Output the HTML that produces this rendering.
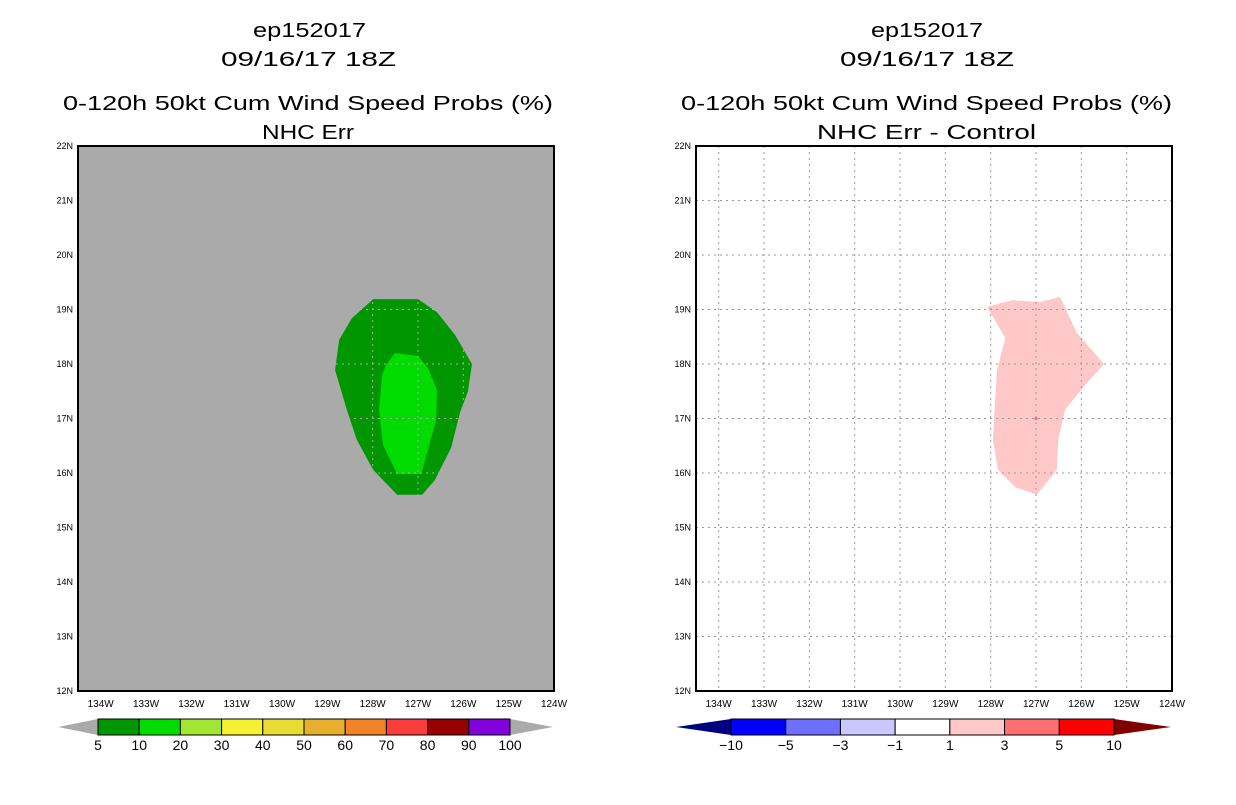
<!DOCTYPE html>
<html><head><meta charset="utf-8"><style>
body{margin:0;background:#fff;width:1236px;height:800px;overflow:hidden}
svg text{font-family:"Liberation Sans",sans-serif}
</style></head><body>
<svg id="s" width="1236" height="800" xmlns="http://www.w3.org/2000/svg">
<g font-size="20" fill="#000" lengthAdjust="spacingAndGlyphs">
<text x="253" y="37" textLength="113" lengthAdjust="spacingAndGlyphs">ep152017</text>
<text x="221" y="66" textLength="175" lengthAdjust="spacingAndGlyphs">09/16/17 18Z</text>
<text x="63" y="110" textLength="490" lengthAdjust="spacingAndGlyphs">0-120h 50kt Cum Wind Speed Probs (%)</text>
<text x="262" y="139" textLength="92" lengthAdjust="spacingAndGlyphs">NHC Err</text></g>
<g font-size="20" fill="#000">
<text x="871" y="37" textLength="112" lengthAdjust="spacingAndGlyphs">ep152017</text>
<text x="840" y="66" textLength="174" lengthAdjust="spacingAndGlyphs">09/16/17 18Z</text>
<text x="681" y="110" textLength="491" lengthAdjust="spacingAndGlyphs">0-120h 50kt Cum Wind Speed Probs (%)</text>
<text x="817" y="139" textLength="219" lengthAdjust="spacingAndGlyphs">NHC Err - Control</text></g>
<g id="L"></g>
<g id="R"></g>
<g id="CB"></g>
</svg>
<script>
const lats=[12,13,14,15,16,17,18,19,20,21,22];
const lons=[134,133,132,131,130,129,128,127,126,125,124];
const outerLon=[127.99,127.0,126.58,126.18,125.81,125.90,126.07,126.27,126.63,126.91,127.46,127.99,128.35,128.57,128.83,128.74,128.46];
const outerLat=[19.19,19.19,18.95,18.53,18.0,17.49,17.12,16.46,15.87,15.60,15.60,16.06,16.61,17.16,17.89,18.44,18.84];
const innerLon=[127.51,127.0,126.78,126.58,126.60,126.93,127.46,127.77,127.86,127.79,127.71];
const innerLat=[18.20,18.15,17.93,17.52,16.97,15.98,15.98,16.51,17.16,17.80,17.98];
const diffLon=[128.08,127.53,126.91,126.47,126.10,125.50,125.92,126.36,126.51,126.54,126.98,127.46,127.84,127.95,127.90,127.86,127.68];
const diffLat=[19.05,19.17,19.14,19.23,18.57,18.0,17.61,17.16,16.61,16.06,15.60,15.74,16.06,16.61,17.34,17.89,18.48];
const leftLevels=["5","10","20","30","40","50","60","70","80","90","100"];
const leftColors=["#009600","#00dc00","#a0e632","#f5f032","#e6dc32","#e6af2d","#f08228","#fa3c3c","#960000","#8200dc"];
const rightLevels=["-10","-5","-3","-1","1","3","5","10"];
const rightColors=["#0000ff","#6f6fff","#c8c8ff","#ffffff","#ffc8c8","#ff6f6f","#ff0000"];
const NS="http://www.w3.org/2000/svg";
function el(t,a,p){const e=document.createElementNS(NS,t);for(const k in a)e.setAttribute(k,a[k]);p.appendChild(e);return e;}
const T=146,B=691,PX=45.33;
const yS=lat=>B-(lat-12)*(B-T)/10;
function panel(g,x0,x1,bg){
 const xS=lon=>x1-(lon-124)*PX;
 const r=el('rect',{x:x0,y:T,width:x1-x0,height:B-T,fill:bg},g);
 
 return xS;
}
function poly(g,xS,lo,la,fill,name){
 const p=el('polygon',{points:lo.map((v,i)=>xS(v)+','+yS(la[i])).join(' '),fill:fill},g);
 
}
function grid(g,xS,x0,x1,col){
 lats.slice(1,-1).forEach(la=>{const l=el('line',{x1:x0,x2:x1,y1:yS(la),y2:yS(la),stroke:col,'stroke-dasharray':'2,4'},g);
  });
 lons.slice(0,-1).forEach(lo=>{const l=el('line',{x1:xS(lo),x2:xS(lo),y1:T,y2:B,stroke:col,'stroke-dasharray':'2,4'},g);
  });
}
function axes(g,xS,x0,x1){
 const f=el('rect',{x:x0,y:T,width:x1-x0,height:B-T,fill:'none',stroke:'#000','stroke-width':2},g);
 
 lats.forEach(la=>{const t=el('text',{x:x0-5,y:yS(la)+3,'font-size':9,'text-anchor':'end'},g);t.textContent=la+'N';
  });
 lons.forEach(lo=>{const t=el('text',{x:xS(lo),y:B+16,'font-size':10,'text-anchor':'middle'},g);t.textContent=lo+'W';
  });
}
const L=document.getElementById('L'),R=document.getElementById('R');
let xs=panel(L,78,554,'#aaaaaa');
poly(L,xs,outerLon,outerLat,'#009600','prob-5-10-contour');
poly(L,xs,innerLon,innerLat,'#00dc00','prob-10-20-contour');
grid(L,xs,78,554,'#aaaaaa');axes(L,xs,78,554);
let xr=panel(R,696,1172,'#ffffff');
poly(R,xr,diffLon,diffLat,'#ffc8c8','diff-1-3-contour');
grid(R,xr,696,1172,'#999');
const d=el('rect',{x:xr(127)-1.5,y:yS(17)-1.5,width:3,height:3,fill:'#ff6f6f'},R);

axes(R,xr,696,1172);
const CB=document.getElementById('CB');
function cbar(x0,x1,tipL,tipR,colors,levels,lc,rc,name){
 const y0=719,y1=735,w=(x1-x0)/colors.length;
 const a=el('polygon',{points:`${tipL},727 ${x0},${y0} ${x0},${y1}`,fill:lc},CB);
 
 const b=el('polygon',{points:`${tipR},727 ${x1},${y0} ${x1},${y1}`,fill:rc},CB);
 
 colors.forEach((c,i)=>{const r=el('rect',{x:x0+i*w,y:y0,width:w,height:y1-y0,fill:c,stroke:'#000','stroke-width':1},CB);
  });
 levels.forEach((lv,i)=>{const t=el('text',{x:x0+i*w,y:750,'font-size':14,'text-anchor':'middle'},CB);t.textContent=lv.replace('-','\u2212');
  });
}
cbar(98,510,58,553,leftColors,leftLevels,'#aaaaaa','#aaaaaa','left-colorbar');
cbar(731,1114,676,1171,rightColors,rightLevels,'#000080','#800000','right-colorbar');
</script>
</body></html>
